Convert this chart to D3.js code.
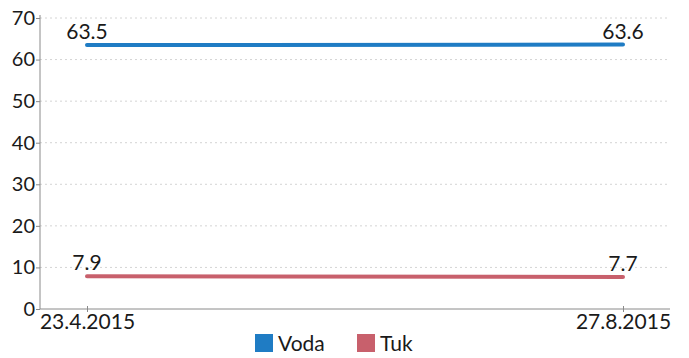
<!DOCTYPE html>
<html>
<head>
<meta charset="utf-8">
<script src="https://cdn.jsdelivr.net/npm/d3@7"></script>
<style>
  html, body { margin: 0; padding: 0; background: #ffffff; }
  svg { display: block; font-family: Lato, "Open Sans", sans-serif; }
</style>
</head>
<body>
<svg id="chart" width="689" height="358"></svg>
<script>
const dates = ["23.4.2015", "27.8.2015"];
const seriesNames = ["Voda", "Tuk"];
const vodaValues = [63.5, 63.6];
const tukValues = [7.9, 7.7];
const yTicks = [0, 10, 20, 30, 40, 50, 60, 70];
const colors = ["#1f7cc4", "#c8606c"];

(function draw() {
  const svg = d3.select("#chart");
  const plotLeft = 40, plotRight = 670, plotTop = 18, plotBottom = 309;
  const textColor = "#1a1a1a";

  const x = d3.scalePoint().domain(dates).range([87, 623]);
  const y = d3.scaleLinear().domain([0, 70]).range([plotBottom, plotTop]);

  // dotted gridlines
  svg.append("g")
    .selectAll("line")
    .data(yTicks.filter(d => d > 0))
    .join("line")
    .attr("x1", plotLeft).attr("x2", plotRight)
    .attr("y1", d => y(d)).attr("y2", d => y(d))
    .attr("stroke", "#d4d4d4")
    .attr("stroke-width", 1)
    .attr("stroke-dasharray", "2,3");

  // y axis
  const yAxis = svg.append("g")
    .attr("transform", `translate(${plotLeft},0)`)
    .call(d3.axisLeft(y).tickValues(yTicks).tickSize(4).tickPadding(1));
  yAxis.select(".domain").attr("stroke", "#8a8a8a").attr("d", `M0,${plotBottom}V${plotTop - 3}`);
  yAxis.selectAll(".tick line").attr("stroke", "#8a8a8a");
  yAxis.selectAll(".tick text")
    .attr("font-size", 20).attr("fill", textColor)
    .attr("font-family", "Lato, 'Open Sans', sans-serif");

  // x axis
  const xAxis = svg.append("g")
    .attr("transform", `translate(0,${plotBottom})`)
    .call(d3.axisBottom(x).tickSize(4).tickSizeOuter(0).tickPadding(1));
  xAxis.select(".domain").attr("stroke", "#8a8a8a").attr("d", `M${plotLeft},0H${plotRight}`);
  xAxis.selectAll(".tick line").attr("stroke", "#8a8a8a").attr("y1", -3).attr("y2", 3);
  xAxis.selectAll(".tick text")
    .attr("font-size", 21).attr("fill", textColor)
    .attr("font-family", "Lato, 'Open Sans', sans-serif");

  // series lines with value labels
  const series = [vodaValues, tukValues];
  const line = d3.line().x((d, i) => x(dates[i])).y(d => y(d));
  series.forEach((vals, si) => {
    svg.append("path")
      .datum(vals)
      .attr("d", line)
      .attr("fill", "none")
      .attr("stroke", colors[si])
      .attr("stroke-width", 4)
      .attr("stroke-linecap", "round");

    svg.append("g")
      .selectAll("text")
      .data(vals)
      .join("text")
      .attr("x", (d, i) => x(dates[i]))
      .attr("y", d => y(d) - 6)
      .attr("text-anchor", "middle")
      .attr("font-size", 21)
      .attr("fill", textColor)
      .text(d => d.toFixed(1));
  });

  // legend
  const legendItems = [
    { name: seriesNames[0], color: colors[0], x: 255 },
    { name: seriesNames[1], color: colors[1], x: 357 }
  ];
  const lg = svg.append("g");
  legendItems.forEach(it => {
    lg.append("rect")
      .attr("x", it.x).attr("y", 334)
      .attr("width", 18).attr("height", 18)
      .attr("fill", it.color);
    lg.append("text")
      .attr("x", it.x + 23).attr("y", 351)
      .attr("font-size", 21).attr("fill", textColor)
      .text(it.name);
  });
})();
</script>
</body>
</html>
